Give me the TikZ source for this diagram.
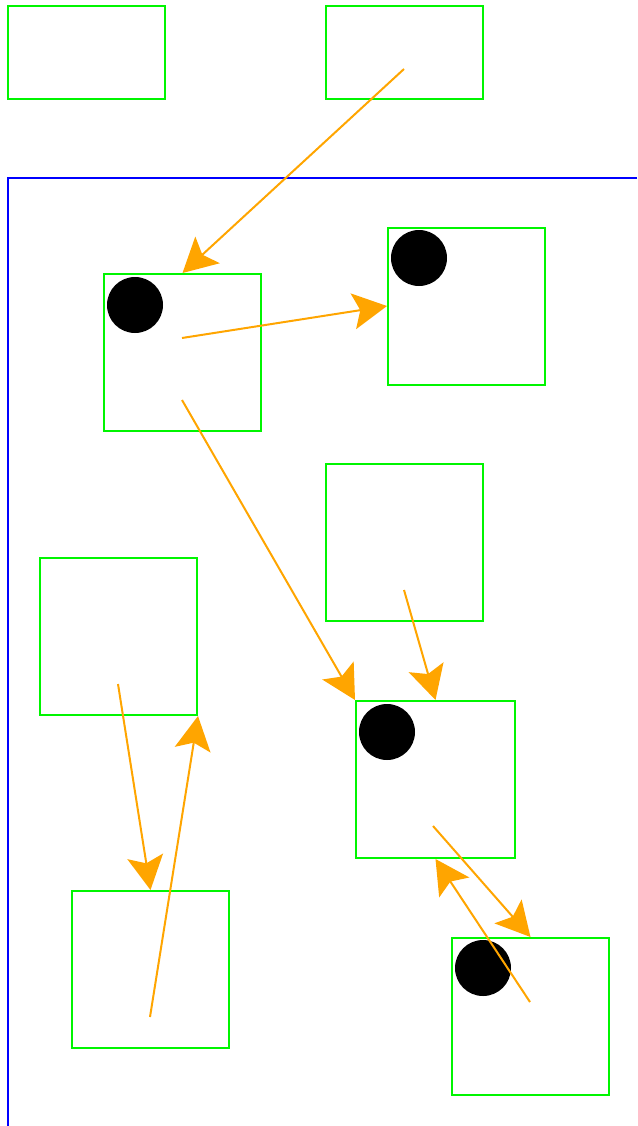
\documentclass[tikz,border=0pt]{standalone}
\usetikzlibrary{arrows.meta}
\begin{document}
\begin{tikzpicture}[x=1pt,y=-1pt,
  box/.style={draw={rgb,255:red,0;green,245;blue,0}, line width=2pt, minimum width=157pt, minimum height=157pt, inner sep=0pt},
  topbox/.style={box, minimum height=93pt},
  dot/.style={circle, fill=black, minimum size=56pt, inner sep=0pt},
  link/.style={draw={rgb,255:red,255;green,165;blue,0}, line width=2pt, -{Stealth[length=34pt,width=36pt,inset=7pt]}},
  frame/.style={draw={rgb,255:red,0;green,0;blue,255}, line width=2pt}]
\useasboundingbox (0,0) rectangle (637,1126);
\draw[frame] (637,178) -- (8,178) -- (8,1126);
\node[topbox] (t1) at (86.5,52.5) {};
\node[topbox] (t2) at (404.5,52.5) {};
\node[box] (a) at (182.5,352.5) {};
\node[box] (b) at (466.5,306) {};
\node[box] (c) at (404.5,542.5) {};
\node[box] (d) at (118.5,636.5) {};
\node[box, minimum width=159pt] (e) at (435.5,779.5) {};
\node[box] (f) at (150.5,969.5) {};
\node[box] (g) at (530.5,1016.5) {};
\node[dot] (ca) at (135,305) {};
\node[dot] (cb) at (419,258) {};
\node[dot] (ce) at (387,732) {};
\node[dot] (cg) at (483,968) {};
\coordinate (s1) at (404,69);
\coordinate (s2) at (182,338);
\coordinate (s3) at (182,400);
\coordinate (s4) at (404,590);
\coordinate (s5) at (118,684);
\coordinate (s6) at (150,1017);
\coordinate (s7) at (433,826);
\coordinate (s8) at (530,1002);
\draw[link] (s1) -- (a.north);
\draw[link] (s2) -- (b.west);
\draw[link] (s3) -- (e.north west);
\draw[link] (s4) -- (e.north);
\draw[link] (s5) -- (f.north);
\draw[link] (s6) -- (d.south east);
\draw[link] (s7) -- (g.north);
\draw[link] (s8) -- (e.south);
\end{tikzpicture}
\end{document}
